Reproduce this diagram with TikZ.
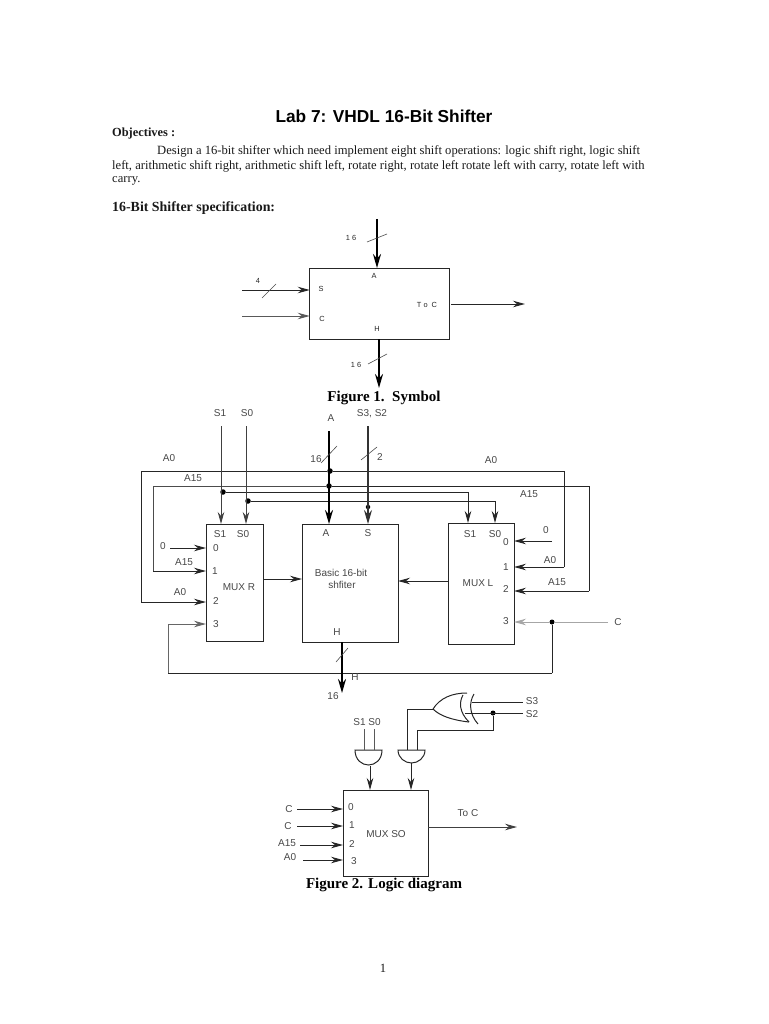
\documentclass[tikz,border=0pt]{standalone}
\usepackage{fontspec}
\setmainfont{Liberation Serif}
\setsansfont{Liberation Sans}
\usetikzlibrary{arrows.meta,positioning,calc}
\tikzset{
  wire/.style={line width=1pt, black!85},
  bus/.style={line width=2pt, black},
  sig/.style={wire, -{Stealth[length=12pt,width=6.5pt]}},
  sigbus/.style={bus, -{Stealth[length=14pt,width=8pt]}},
  slash/.style={line width=0.6pt, black!70},
  block/.style={draw=black!85, line width=0.95pt, inner sep=0pt, outer sep=0pt, fill=white},
  lbl/.style={inner sep=0pt, font=\sffamily\fontsize{10}{12}\selectfont, text=black!72},
  tiny/.style={inner sep=0pt, font=\sffamily\fontsize{7.4}{9}\selectfont, text=black!85},
  para/.style={inner sep=0pt, anchor=west, font=\fontsize{12.6}{14}\selectfont, text=black!90},
  head/.style={inner sep=0pt, font=\bfseries\fontsize{15}{17}\selectfont},
  junc/.style={circle, fill=black, inner sep=0pt, minimum size=5.5pt},
}
\begin{document}
\begin{tikzpicture}[x=1pt,y=-1pt]
  \useasboundingbox (0,0) rectangle (768,1024);
  % Page text
  \node[inner sep=0pt, font=\sffamily\bfseries\fontsize{17.3}{20}\selectfont] (title) at (384,116) {Lab 7: VHDL 16-Bit Shifter};
  \node[para, font=\bfseries\fontsize{12.4}{14}\selectfont] (objectives) at (112,134) {Objectives :};
  \node[para] (line1) at (157,151) {Design a 16-bit shifter which need implement eight shift operations: logic shift right, logic shift};
  \node[para] (line2) at (112,166) {left, arithmetic shift right, arithmetic shift left, rotate right, rotate left rotate left with carry, rotate left with};
  \node[para] (line3) at (112,181) {carry.};
  \node[para, font=\bfseries\fontsize{13.9}{16}\selectfont] (spec) at (112,208) {16-Bit Shifter specification:};
  \node[head] (fig1) at (384,398) {Figure 1.\ \ Symbol};
  \node[head] (fig2) at (384,885) {Figure 2. Logic diagram};
  \node[para, anchor=center] (pagenum) at (383,968) {1};

  % Figure 1: symbol
  \node[block, minimum width=139.5pt, minimum height=71pt] (sym) at (379.5,303.5) {};
  \coordinate (symA) at (377,219);
  \coordinate (symH) at (379,388);
  \coordinate (symS) at (242,290);
  \coordinate (symC) at (242,316);
  \coordinate (symOutA) at (451,304);
  \coordinate (symOut) at (525,304);
  \draw[sigbus] (symA) -- (symA |- sym.north);
  \draw[sigbus] (symH |- sym.south) -- (symH);
  \draw[sig] (symS) -- (symS -| sym.west);
  \draw[sig, black!65] (symC) -- (symC -| sym.west);
  \draw[sig] (symOutA) -- (symOut);
  \draw[slash] (367,242) -- (387,234);
  \draw[slash] (368,364) -- (387,354);
  \draw[slash] (262,298) -- (276,284);
  \foreach \n/\x/\y/\t in {a/374/276/A, h/377/329/H, s/321/289/S, c/322/319/C, t/427/305/{T o\ \ C}, p/351/238/{1 6}, q/356/365/{1 6}, r/258/281/4}
    \node[tiny] (sym\n) at (\x,\y) {\t};

  % Figure 2: blocks
  \node[block, minimum width=57pt, minimum height=117pt] (muxR) at (234.5,582.5) {};
  \node[block, minimum width=96pt, minimum height=118pt] (shifter) at (350,583) {};
  \node[block, minimum width=66pt, minimum height=121pt] (muxL) at (481,583.5) {};
  \node[block, minimum width=85pt, minimum height=86pt] (muxSO) at (385.5,833) {};

  % Buses over the blocks
  \coordinate (a0L) at (141,471);
  \coordinate (a0R) at (564,471);
  \coordinate (a15L) at (153,486);
  \coordinate (a15R) at (589,486);
  \node[junc] (jA0) at (330,471) {};
  \node[junc] (jA15) at (329,486) {};
  \node[junc] (jS1) at (223,492) {};
  \node[junc] (jS0) at (248,501) {};
  \node[junc, minimum size=4.5pt] (jS) at (368,507) {};
  \coordinate (toS1) at (468,492);
  \coordinate (toS0) at (495,501);
  \coordinate (r1) at (206,571);
  \coordinate (r2) at (206,602);
  \coordinate (l1) at (514,567);
  \coordinate (l2) at (514,591);
  \draw[sig] (a0R |- l1) -- (l1);
  \draw[wire] (jA0) -- (a0L) -- (a0L |- r2);
  \draw[sig] (a0L |- r2) -- (r2);
  \draw[wire] (jA0) -- (a0R) -- (a0R |- l1);
  \draw[wire, black!70] (jA15) -- (a15L) -- (a15L |- r1);
  \draw[sig] (a15L |- r1) -- (r1);
  \draw[wire] (jA15) -- (a15R) -- (a15R |- l2);
  \draw[sig] (a15R |- l2) -- (l2);
  \draw[wire] (jS1) -- (toS1);
  \draw[sig] (toS1) -- (toS1 |- muxL.north);
  \draw[wire] (jS0) -- (toS0);
  \draw[sig] (toS0) -- (toS0 |- muxL.north);

  % Control lines from the top
  \coordinate (inS1) at (221,426);
  \coordinate (inS0) at (246,426);
  \coordinate (inA) at (329,431);
  \coordinate (inS) at (368,426);
  \draw[sig, black!75] (inS1) -- (inS1 |- muxR.north);
  \draw[sig, black!75] (inS0) -- (inS0 |- muxR.north);
  \draw[sigbus] (inA) -- (inA |- shifter.north);
  \draw[sigbus, line width=1.2pt, black!80] (inS) -- (inS |- shifter.north);
  \draw[slash] (321,463) -- (337,446);
  \draw[slash] (361,460) -- (377,447);

  % Inputs of the two muxes
  \coordinate (r0) at (170,548);
  \coordinate (l0) at (552,541);
  \coordinate (inC) at (608,622);
  \node[junc, minimum size=5pt] (jC) at (552,622) {};
  \coordinate (r3) at (206,624);
  \coordinate (fbL) at (168,673);
  \draw[sig] (r0) -- (r0 -| muxR.west);
  \draw[sig] (l0) -- (l0 -| muxL.east);
  \draw[wire, black!35] (inC) -- (jC);
  \draw[sig, black!35] (jC) -- (jC -| muxL.east);
  \draw[wire] (jC) -- (jC |- fbL);
  \draw[wire] (jC |- fbL) -- (fbL);
  \draw[wire, black!60] (fbL) -- (fbL |- r3);
  \draw[sig, black!60] (fbL |- r3) -- (r3);

  % Into and out of the shifter
  \draw[sig] (muxR.east |- 0,579) -- (shifter.west |- 0,579);
  \draw[sig] (muxL.west |- 0,581) -- (shifter.east |- 0,581);
  \coordinate (outH) at (342,693);
  \draw[sigbus] (outH |- shifter.south) -- (outH);
  \draw[slash] (336,662) -- (348,648);

  % Figure 2 labels
  \foreach \n/\x/\y/\t in {
    ta/220/413/S1, tb/247/413/S0, tc/331/418/A, td/372/414/{S3, S2}, te/316/459/16, tf/380/457/2,
    tg/169/458/A0, th/193/478/A15, ti/491/460/A0, tj/529/494/A15,
    ra/220/534/S1, rb/243/534/S0, rc/216/548/0, rd/215/571/1, re/216/601/2, rf/216/624/3, rg/239/587/{MUX R},
    ia/163/546/0, ib/184/562/A15, ic/180/592/A0,
    ba/326/533/A, bb/368/533/S, bc/341/573/{Basic 16-bit}, bd/342/585/shfiter, be/337/632/H,
    la/470/534/S1, lb/495/534/S0, lc/506/542/0, ld/506/567/1, le/506/589/2, lf/506/621/3, lg/478/583/{MUX L},
    ja/546/530/0, jb/550/560/A0, jc/557/582/A15, jd/618/622/C,
    oa/355/677/H, ob/333/696/16,
    ga/367/722/{S1 S0}, gb/532/701/S3, gc/532/714/S2,
    sa/351/807/0, sb/352/825/1, sc/352/844/2, sd/354/861/3, se/386/834/{MUX SO}, sf/468/813/{To C},
    ca/289/809/C, cb/288/826/C, cc/287/843/A15, cd/290/857/A0}
    \node[lbl] (lab\n) at (\x,\y) {\t};

  % Gates above MUX SO
  \draw[wire] (355,750) -- (382,750) .. controls (382,760) and (375,765) .. (368.5,765)
    .. controls (362,765) and (355,760) .. (355,750) -- cycle;
  \draw[wire] (398,750) -- (425,750) .. controls (425,758) and (418,763) .. (411.5,763)
    .. controls (405,763) and (398,758) .. (398,750) -- cycle;
  \draw[wire] (433,709) .. controls (440,698) and (452,693) .. (467,693);
  \draw[wire] (433,709) .. controls (440,716) and (452,720) .. (469,722);
  \draw[wire] (463,695) .. controls (459,702) and (459,712) .. (469,722);
  \draw[wire] (474,694) .. controls (469,702) and (469,714) .. (478,724);
  \coordinate (gateXorOut) at (433,709);
  \coordinate (gateS3) at (472,702);
  \coordinate (gateS2) at (465,713);
  \coordinate (inS3) at (523,702);
  \coordinate (inS2) at (523,713);
  \node[junc, minimum size=5pt] (jS2) at (493,713) {};
  \coordinate (andA) at (407,750);
  \coordinate (andB) at (417,750);
  \coordinate (bendB) at (417,730);
  \draw[wire] (gateS3) -- (inS3);
  \draw[wire] (gateS2) -- (inS2);
  \draw[wire] (gateXorOut) -| (andA);
  \draw[wire] (jS2) |- (bendB) -- (andB);
  \draw[wire, black!65] (364,729) -- (364,750);
  \draw[wire, black!65] (374,729) -- (374,750);
  \draw[sig] (370,766) -- (370,790);
  \draw[sig] (411,763) -- (411,790);

  % Inputs and output of MUX SO
  \foreach \n/\x/\y in {a/297/809, b/297/826, c/300/845, d/303/860}
    \draw[sig] (\x,\y) coordinate (so\n) -- (so\n -| muxSO.west);
  \coordinate (soOut) at (517,827);
  \draw[sig, black!75] (soOut -| muxSO.east) -- (soOut);
\end{tikzpicture}
\end{document}
